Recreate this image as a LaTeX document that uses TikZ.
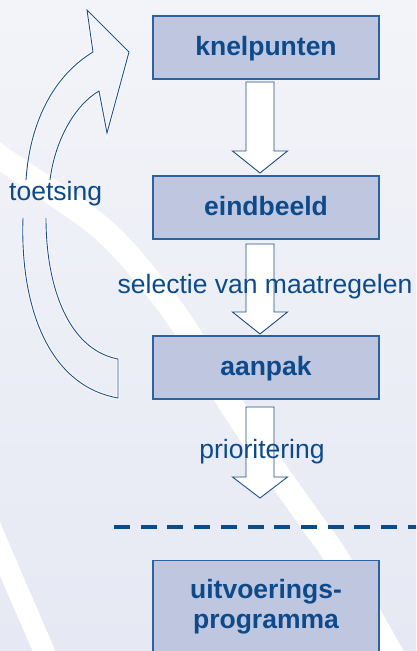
\documentclass[tikz,border=0pt]{standalone}
\usepackage{fontspec}
\setmainfont{Liberation Sans}
\usetikzlibrary{calc}
\definecolor{bgtop}{HTML}{F3F4F9}
\definecolor{bgbot}{HTML}{E6E9F3}
\definecolor{boxfill}{HTML}{BFC6DF}
\definecolor{boxline}{HTML}{2A62A4}
\definecolor{txt}{HTML}{0C4A8C}
\definecolor{arrline}{HTML}{1F4F8A}
\newcommand\blockdown[4]{\draw[blockarrow] (#1-14,#2) -- (#1+14,#2) -- (#1+14,#3) -- (#1+27.5,#3) -- (#1,#4) -- (#1-27.5,#3) -- (#1-14,#3) -- cycle;}
\begin{document}
\begin{tikzpicture}[x=1pt,y=-1pt,
  stepbox/.style={draw=boxline, line width=1.3pt, fill=boxfill, minimum width=226pt, minimum height=63pt, inner sep=0pt, text=txt, font=\fontsize{26.5}{30}\selectfont\bfseries, text height=19pt, text depth=4pt},
  lbl/.style={text=txt, font=\fontsize{26.5}{30}\selectfont, inner sep=0pt, anchor=base},
  blockarrow/.style={draw=arrline, line width=0.9pt, fill=white, line join=miter},
  curvearrow/.style={preaction={draw=white, line width=2.6pt}, draw=arrline, line width=0.9pt, line join=miter},
  stripe/.style={draw=white, line cap=butt}
]
\useasboundingbox (0,0) rectangle (416,651);
\clip (0,0) rectangle (416,651);
\shade[top color=bgtop, bottom color=bgbot] (0,0) rectangle (416,651);
% background stripes
\draw[stripe, line width=24pt] plot[smooth, tension=0.5] coordinates {(-20,143) (0,157) (100,227) (155,287) (190,336) (228,400) (272,466) (316,528) (338,560) (395,660)};
\draw[stripe, line width=21pt] plot[smooth] coordinates {(-25,490) (9,570) (44,651) (50,665)};
% boxes
\node[stepbox] (k) at (266,47.5) {knelpunten};
\node[stepbox] (e) at (266,207.5) {eindbeeld};
\node[stepbox] (a) at (266,367.5) {aanpak};
\node[stepbox, minimum height=100pt, anchor=north] (u) at (266,560) {};
\node[lbl, font=\fontsize{26.5}{30}\selectfont\bfseries] (u1) at (266,598) {uitvoerings-};
\node[lbl, font=\fontsize{26.5}{30}\selectfont\bfseries] (u2) at (266,628) {programma};
% block arrows
\blockdown{260}{82}{151}{173}
\blockdown{260}{244}{312}{334}
\blockdown{260}{407}{477}{498}
% labels
\node[lbl] (sel) at (265,293) {selectie van maatregelen};
\node[lbl] (prio) at (262,458) {prioritering};
\node[lbl, anchor=base west] (toe) at (9,200) {toetsing};
% curved arrow
\draw[curvearrow] (26,180) .. controls (30,120) and (55,75) .. (93,52) -- (87,10) -- (129,52) -- (107,133) -- (99,91) .. controls (75,105) and (55,140) .. (50,180);
\draw[curvearrow] (23,218) .. controls (20,300) and (45,385) .. (118,398) -- (118,359) .. controls (70,350) and (46,290) .. (46,218);
% dashed separator
\coordinate (d0) at (114,527);
\coordinate (d1) at (420,527);
\draw[txt, line width=4pt, dash pattern=on 16pt off 10.7pt] (d0) -- (d1);
\end{tikzpicture}
\end{document}
